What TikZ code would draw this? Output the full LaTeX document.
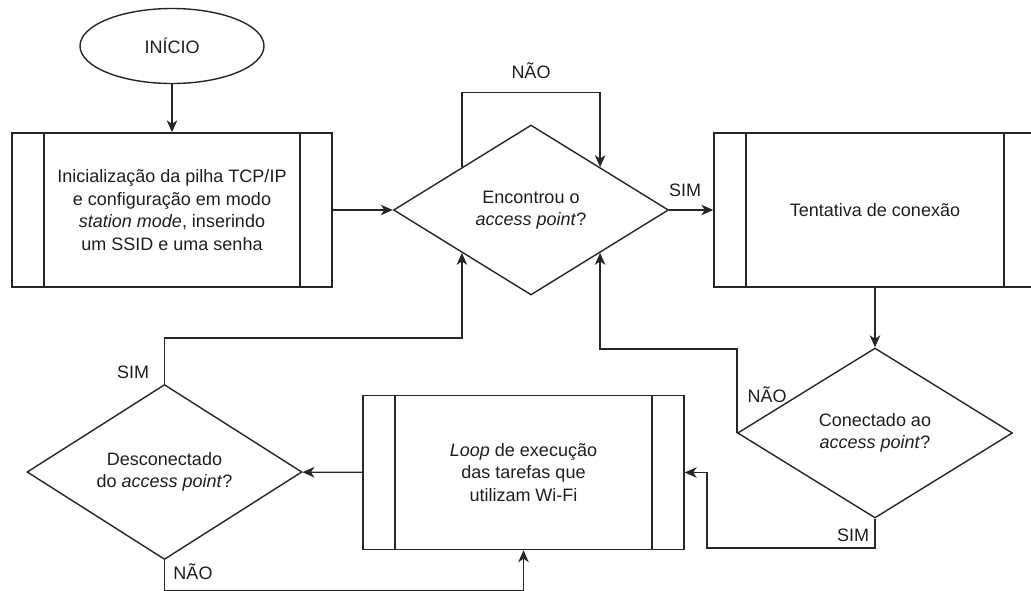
\documentclass[tikz,border=0pt]{standalone}
\usepackage{fontspec}
\setmainfont{Liberation Sans}
\usetikzlibrary{shapes.geometric,arrows.meta}
\definecolor{ink}{HTML}{262626}
\definecolor{txt}{HTML}{1E1E1E}
\begin{document}
\begin{tikzpicture}[x=1pt,y=-1pt,
  every node/.style={text=txt,font=\fontsize{18}{22.5}\selectfont},
  line/.style={draw=ink,line width=1.4pt},
  arr/.style={line,-{Stealth[length=12pt,width=10.5pt,inset=3.5pt]}},
  startbox/.style={line,ellipse,minimum width=184pt,minimum height=75pt,inner sep=0pt},
  procbox/.style={line,rectangle,minimum width=320pt,minimum height=154pt,align=center,
    path picture={
      \draw[ink,line width=1.4pt]
        ([xshift=32pt]path picture bounding box.north west) -- ([xshift=32pt]path picture bounding box.south west)
        ([xshift=-32pt]path picture bounding box.north east) -- ([xshift=-32pt]path picture bounding box.south east);
    }},
  decision/.style={line,diamond,minimum width=275pt,minimum height=170pt,inner sep=0pt,align=center},
  lbl/.style={inner sep=0pt}
]
\useasboundingbox (0,0) rectangle (1031,590);

% nodes
\node[startbox] (start) at (172,46) {INÍCIO};
\node[procbox] (init) at (172,210) {Inicialização da pilha TCP/IP\\ e configuração em modo\\ \textit{station mode}, inserindo\\ um SSID e uma senha};
\node[decision] (found) at (531,210) {Encontrou o\\ \textit{access point}?};
\node[procbox,minimum width=322pt] (try) at (875,210) {Tentativa de conexão};
\node[decision] (conn) at (875,433) {Conectado ao\\ \textit{access point}?};
\node[procbox,minimum width=321pt] (loop) at (523.5,472.5) {\textit{Loop} de execução\\ das tarefas que\\ utilizam Wi-Fi};
\node[decision] (disc) at (164.5,472) {Desconectado\\ do \textit{access point}?};

% connectors
\draw[arr] (start) -- (init);
\draw[arr] (init) -- (found);
\draw[arr] (found.north west) -- ++(0,-74.5) -| (found.north east);
\draw[arr] (found) -- (try);
\draw[arr] (try) -- (conn);
\draw[arr] (conn.west) -- ++(0,-84) -| (found.south east);
\draw[arr] (conn.south) |- (707,548) |- (loop.east);
\draw[arr] (loop) -- (disc);
\draw[arr] (disc.north) -- ++(0,-46) -| (found.south west);
\draw[arr] (disc.south) -- ++(0,30) -| (loop.south);

% branch labels
\node[lbl] at (531,71) {NÃO};
\node[lbl] at (685,190) {SIM};
\node[lbl] at (767,395) {NÃO};
\node[lbl] at (853,535) {SIM};
\node[lbl] at (133,372) {SIM};
\node[lbl] at (193,572) {NÃO};
\end{tikzpicture}
\end{document}
